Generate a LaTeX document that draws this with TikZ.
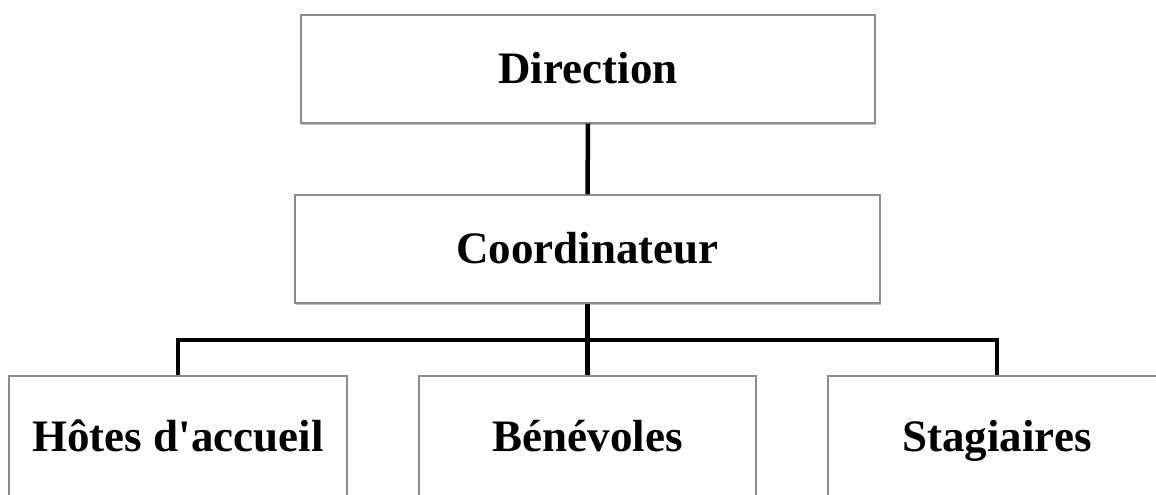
\documentclass[tikz,border=0pt]{standalone}
\usepackage{fontspec}
\setmainfont{Liberation Serif}
\usetikzlibrary{shadows}
\tikzset{
  box/.style={draw=black!45, line width=1.1pt, fill=white, inner sep=0pt,
    text height=29pt, text depth=0pt,
    font=\fontsize{45}{50}\selectfont\bfseries,
    drop shadow={shadow xshift=0.8pt, shadow yshift=-2.2pt, fill=black, opacity=0.25}},
  conn/.style={line width=4.5pt, black}
}
\begin{document}
\begin{tikzpicture}[x=1pt,y=1pt]
\useasboundingbox (0,0) rectangle (1156,495);
\node[box, minimum width=574pt, minimum height=108pt] (dir) at (588,426) {Direction};
\node[box, minimum width=585pt, minimum height=108pt] (coord) at (587.5,246) {Coordinateur};
\node[box, minimum width=338pt, minimum height=122pt] (h) at (178,58) {Hôtes d\textquotesingle accueil};
\node[box, minimum width=337pt, minimum height=122pt] (b) at (587.5,58) {Bénévoles};
\node[box, minimum width=338pt, minimum height=122pt] (s) at (997,58) {Stagiaires};
\coordinate (bar) at (587.5,155);
\draw[conn] (dir.south) -- (coord.north);
\draw[conn] (coord.south) -- (bar);
\draw[conn] (h.north) |- (bar) -| (s.north);
\draw[conn] (bar) -- (b.north);
\end{tikzpicture}
\end{document}
